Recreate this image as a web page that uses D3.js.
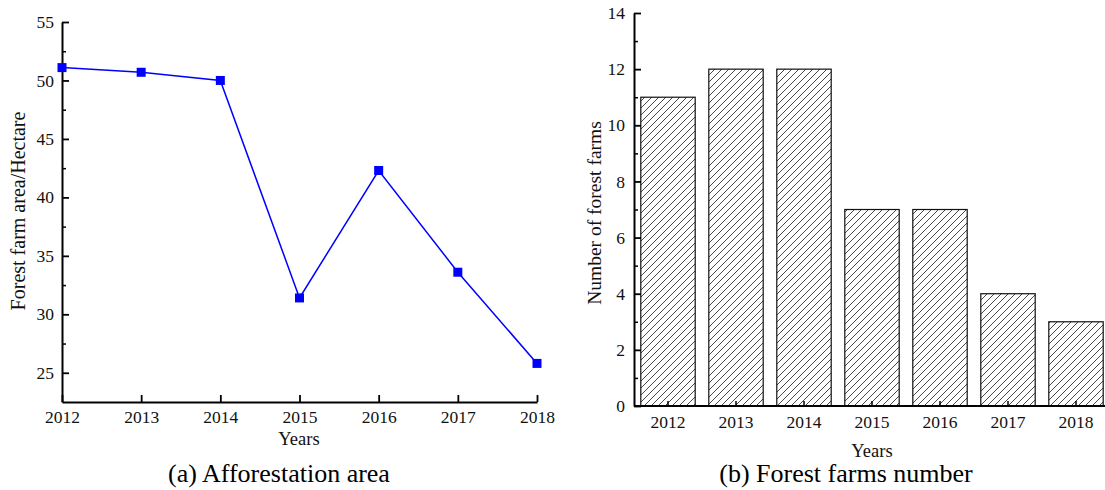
<!DOCTYPE html>
<html>
<head>
<meta charset="utf-8">
<script src="https://cdn.jsdelivr.net/npm/d3@7"></script>
<style>
  html, body { margin: 0; padding: 0; background: #fff; }
  svg { display: block; font-family: "Liberation Serif", "Times New Roman", serif; }
  .axis path, .axis line { stroke: #000; }
  .axis text { font-size: 17.5px; fill: #111; font-family: "Liberation Serif", "Times New Roman", serif; }
</style>
</head>
<body>
<svg id="chart" width="1105" height="490"></svg>
<script>
// ---- Data ----
const years = ["2012", "2013", "2014", "2015", "2016", "2017", "2018"];
const afforestationArea = [51.1, 50.7, 50.0, 31.4, 42.3, 33.6, 25.8];
const forestFarms = [11, 12, 12, 7, 7, 4, 3];
const areaTicks = [25, 30, 35, 40, 45, 50, 55];
const farmTicks = [0, 2, 4, 6, 8, 10, 12, 14];

const svg = d3.select("#chart");
const FONT = '"Liberation Serif", "Times New Roman", serif';

// hatch pattern
const defs = svg.append("defs");
const pat = defs.append("pattern")
  .attr("id", "hatch").attr("patternUnits", "userSpaceOnUse")
  .attr("width", 7).attr("height", 7);
pat.append("rect").attr("width", 7).attr("height", 7).attr("fill", "#fff");
pat.append("path")
  .attr("d", "M0,7 L7,0 M-1,1 L1,-1 M6,8 L8,6")
  .attr("stroke", "#333").attr("stroke-width", 0.9);

// ================= Left chart (a) =================
const xA = d3.scaleLinear().domain([2012, 2018]).range([62, 537]);
const yA = d3.scaleLinear().domain([22.5, 55]).range([402, 22]);

const gA = svg.append("g");

// minor y ticks
const yAMinor = d3.axisLeft(yA).tickValues(d3.range(27.5, 55, 5)).tickSize(-4).tickFormat("").tickSizeOuter(0);
gA.append("g").attr("class", "axis").attr("transform", "translate(62,0)").call(yAMinor)
  .call(g => g.select(".domain").remove())
  .selectAll("line").attr("stroke-width", 1.5);

const yAxisA = d3.axisLeft(yA).tickValues(areaTicks).tickSizeInner(-7).tickSizeOuter(0).tickPadding(8);
gA.append("g").attr("class", "axis").attr("transform", "translate(62,0)").call(yAxisA)
  .call(g => g.select(".domain").attr("stroke-width", 2))
  .call(g => g.selectAll(".tick line").attr("stroke-width", 1.8));

const xAxisA = d3.axisBottom(xA).tickValues(years.map(Number)).tickFormat(d3.format("d"))
  .tickSizeInner(-7).tickSizeOuter(0).tickPadding(9);
gA.append("g").attr("class", "axis").attr("transform", "translate(0,402)").call(xAxisA)
  .call(g => g.select(".domain").attr("stroke-width", 2.2))
  .call(g => g.selectAll(".tick line").attr("stroke-width", 1.8));

const line = d3.line().x((d, i) => xA(+years[i])).y(d => yA(d));
gA.append("path").datum(afforestationArea)
  .attr("d", line).attr("fill", "none").attr("stroke", "#0000ff").attr("stroke-width", 1.5);

const ms = 9;
gA.selectAll("rect.mk").data(afforestationArea).enter().append("rect")
  .attr("class", "mk")
  .attr("x", (d, i) => xA(+years[i]) - ms / 2)
  .attr("y", d => yA(d) - ms / 2)
  .attr("width", ms).attr("height", ms)
  .attr("fill", "#0000ff");

gA.append("text").attr("transform", "translate(25,211) rotate(-90)")
  .attr("text-anchor", "middle").attr("font-size", 20).attr("font-family", FONT).attr("fill", "#111")
  .text("Forest farm area/Hectare");
gA.append("text").attr("x", 299).attr("y", 445).attr("text-anchor", "middle")
  .attr("font-size", 18.5).attr("font-family", FONT).attr("fill", "#111").text("Years");
gA.append("text").attr("x", 279).attr("y", 482).attr("text-anchor", "middle")
  .attr("font-size", 26).attr("font-family", FONT).attr("fill", "#000").text("(a) Afforestation area");

// ================= Right chart (b) =================
const xB = d3.scaleBand().domain(years).range([634, 1110]).paddingInner(0.2).paddingOuter(0.1);
const yB = d3.scaleLinear().domain([0, 14]).range([406, 13]);

const gB = svg.append("g");

gB.selectAll("rect.bar").data(forestFarms).enter().append("rect")
  .attr("class", "bar")
  .attr("x", (d, i) => xB(years[i]))
  .attr("y", d => yB(d))
  .attr("width", xB.bandwidth())
  .attr("height", d => yB(0) - yB(d))
  .attr("fill", "url(#hatch)")
  .attr("stroke", "#111").attr("stroke-width", 1.2);

const yBMinor = d3.axisLeft(yB).tickValues(d3.range(1, 14, 2)).tickSize(-4).tickFormat("").tickSizeOuter(0);
gB.append("g").attr("class", "axis").attr("transform", "translate(634,0)").call(yBMinor)
  .call(g => g.select(".domain").remove())
  .selectAll("line").attr("stroke-width", 1.5);

const yAxisB = d3.axisLeft(yB).tickValues(farmTicks).tickSizeInner(-7).tickSizeOuter(0).tickPadding(9);
gB.append("g").attr("class", "axis").attr("transform", "translate(634,0)").call(yAxisB)
  .call(g => g.select(".domain").attr("stroke-width", 2))
  .call(g => g.selectAll(".tick line").attr("stroke-width", 1.8));

const xAxisB = d3.axisBottom(xB).tickSizeInner(-5).tickSizeOuter(0).tickPadding(10);
const gxB = gB.append("g").attr("class", "axis").attr("transform", "translate(0,406)").call(xAxisB);
gxB.select(".domain").attr("d", "M634,0H1105").attr("stroke-width", 2.2);
gxB.selectAll(".tick line").attr("stroke-width", 1.5);

gB.append("text").attr("transform", "translate(601,213) rotate(-90)")
  .attr("text-anchor", "middle").attr("font-size", 19.5).attr("font-family", FONT).attr("fill", "#111")
  .text("Number of forest farms");
gB.append("text").attr("x", 872).attr("y", 457).attr("text-anchor", "middle")
  .attr("font-size", 18.5).attr("font-family", FONT).attr("fill", "#111").text("Years");
gB.append("text").attr("x", 846).attr("y", 482).attr("text-anchor", "middle")
  .attr("font-size", 26).attr("font-family", FONT).attr("fill", "#000").text("(b) Forest farms number");
</script>
</body>
</html>
